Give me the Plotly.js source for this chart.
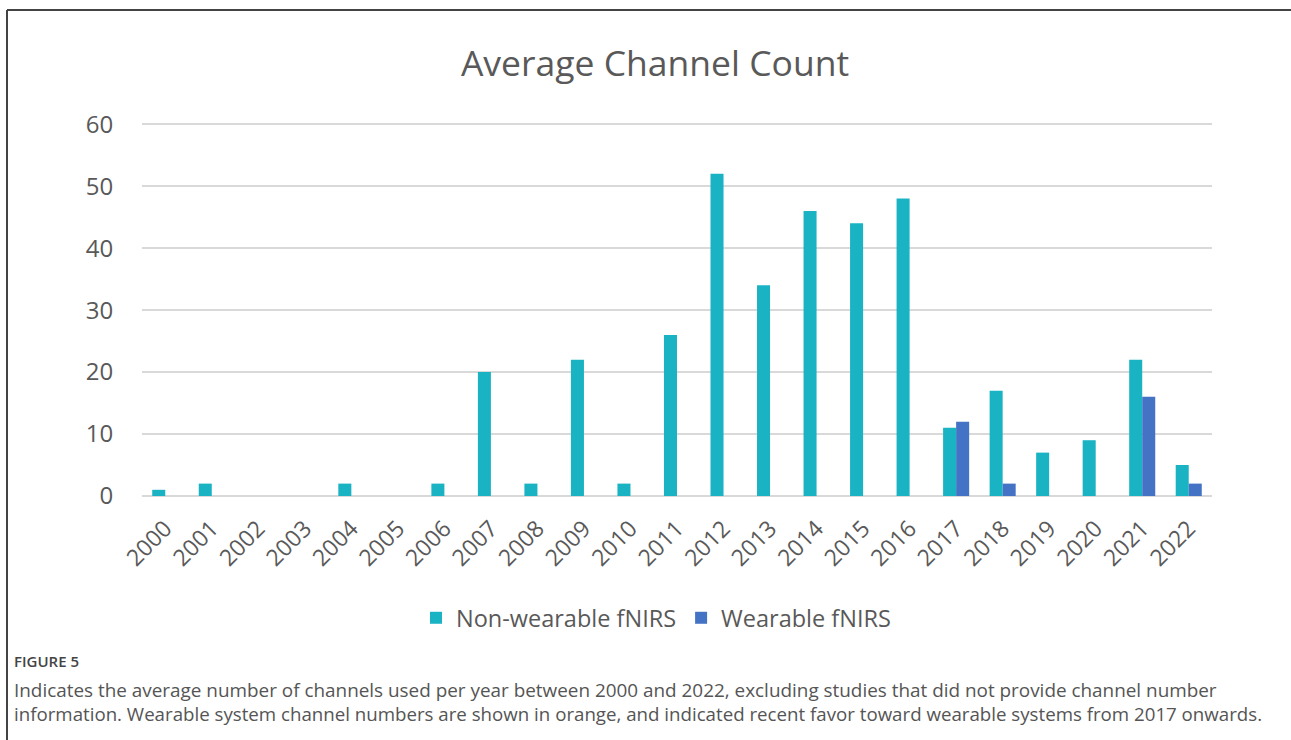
<!DOCTYPE html>
<html>
<head>
<meta charset="utf-8">
<script src="https://cdn.plot.ly/plotly-3.0.1.min.js"></script>
<style>
html,body{margin:0;padding:0;background:#fff;}
#chart{width:1291px;height:740px;}
</style>
</head>
<body>
<div id="chart"></div>
<script>
const years = ["2000","2001","2002","2003","2004","2005","2006","2007","2008","2009","2010","2011","2012","2013","2014","2015","2016","2017","2018","2019","2020","2021","2022"];
const nonWearable = [1,2,0,0,2,0,2,20,2,22,2,26,52,34,46,44,48,11,17,7,9,22,5];
const wearable =    [0,0,0,0,0,0,0,0,0,0,0,0,0,0,0,0,0,12,2,0,0,16,2];
const yTicks = [0,10,20,30,40,50,60];
const chartTitle = "Average Channel Count";
const seriesNames = ["Non-wearable fNIRS","Wearable fNIRS"];
const captionHead = "FIGURE 5";
const captionLines = [
  "Indicates the average number of channels used per year between 2000 and 2022, excluding studies that did not provide channel number",
  "information. Wearable system channel numbers are shown in orange, and indicated recent favor toward wearable systems from 2017 onwards."
];

const W = 1291, H = 740;
const yMax = 61;
const L = 142, R = 1212, B = 496;
const T = Math.round(B - (B - 124) * yMax / 60);
const px = x => (x - L) / (R - L);
const py = y => (B - y) / (B - T);

const font = "'Open Sans', 'Noto Sans', sans-serif";
const grey = "#595959";

const traces = [
  {type:"bar", name:seriesNames[0], x:years, y:nonWearable, marker:{color:"#1AB3C4"}},
  {type:"bar", name:seriesNames[1], x:years, y:wearable, marker:{color:"#4472C4"}}
];

const layout = {
  width:W, height:H,
  margin:{l:L, r:W-R, t:T, b:H-B, pad:0},
  paper_bgcolor:"#fff", plot_bgcolor:"#fff",
  barmode:"group", bargap:0.44, bargroupgap:0,
  font:{family:font, color:grey},
  title:{text:chartTitle, font:{family:font, size:35.5, color:grey}, x:px(655), xref:"paper", xanchor:"center", y:1-64/H, yanchor:"middle"},
  xaxis:{type:"category", tickangle:-45, tickfont:{size:23, color:grey}, showgrid:false, showline:false, zeroline:false, ticks:"outside", ticklen:9, tickcolor:"rgba(0,0,0,0)", fixedrange:true},
  yaxis:{range:[0,yMax], tickvals:yTicks, tickfont:{size:24, color:grey}, showgrid:true, gridcolor:"#d9d9d9", gridwidth:2, zeroline:true, zerolinecolor:"#d9d9d9", zerolinewidth:2, showline:false, ticks:"outside", ticklen:23, tickcolor:"rgba(0,0,0,0)", fixedrange:true},
  legend:{orientation:"h", x:px(656), xanchor:"center", y:py(618), yanchor:"middle", font:{size:23.5, color:grey}, itemwidth:30, tracegroupgap:0},
  showlegend:true,
  shapes:[
    {type:"line", xref:"paper", yref:"paper", x0:px(7), x1:px(1291), y0:py(10), y1:py(10), line:{color:"#444", width:2}},
    {type:"line", xref:"paper", yref:"paper", x0:px(7), x1:px(7), y0:py(10), y1:py(745), line:{color:"#444", width:2}}
  ],
  annotations:[
    {text:captionHead, xref:"paper", yref:"paper", x:px(12), y:py(661), xanchor:"left", yanchor:"middle", showarrow:false, font:{family:font, size:15, weight:600, color:"#444"}},
    {text:captionLines[0], xref:"paper", yref:"paper", x:px(12), y:py(690), xanchor:"left", yanchor:"middle", showarrow:false, font:{family:font, size:18.9, color:"#555"}},
    {text:captionLines[1], xref:"paper", yref:"paper", x:px(12), y:py(713), xanchor:"left", yanchor:"middle", showarrow:false, font:{family:font, size:18.7, color:"#555"}}
  ]
};

Plotly.newPlot("chart", traces, layout, {displayModeBar:false, staticPlot:true});
</script>
</body>
</html>
